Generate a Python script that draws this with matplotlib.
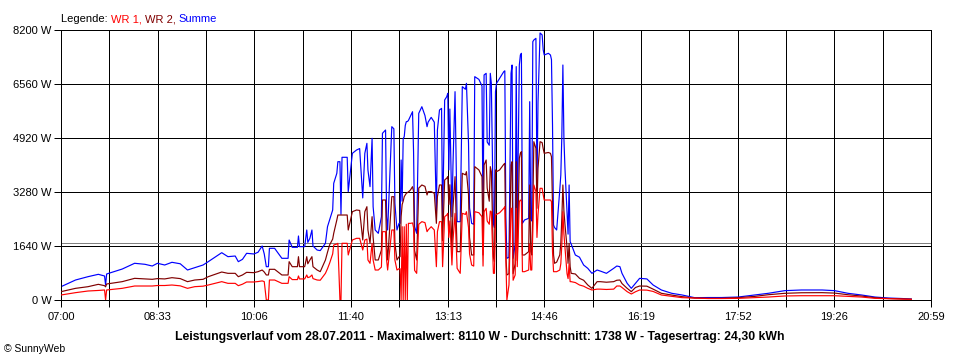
import matplotlib
matplotlib.use("Agg")
import matplotlib.pyplot as plt
import numpy as np

# minutes after 07:00 and power in W
minutes = [0, 14, 26, 36, 42, 43, 44, 59, 71, 81, 88, 93, 100, 107, 115, 122, 129, 137, 142, 155,
           161, 168, 171, 175, 179, 186, 190, 194, 196, 198, 200, 201, 206, 213, 219, 220, 223, 228, 229, 230,
           235, 237, 238, 240, 242, 243, 247, 250, 255, 257, 259, 262, 263, 266, 267, 269, 270, 271, 276, 277,
           281, 285, 288, 291, 293, 295, 296, 298, 300, 301, 303, 306, 309, 310, 313, 314, 315, 319, 321, 322,
           324, 326, 327, 328, 329, 330, 331, 332, 333, 334, 335, 337, 339, 340, 341, 343, 345, 348, 351, 353,
           354, 357, 360, 362, 363, 365, 367, 368, 370, 372, 373, 374, 375, 377, 378, 380, 382, 385, 387, 390,
           391, 393, 394, 396, 398, 399, 403, 406, 407, 408, 410, 411, 413, 414, 415, 417, 418, 419, 420, 423,
           427, 428, 429, 430, 432, 434, 435, 436, 438, 439, 440, 442, 443, 444, 445, 447, 451, 452, 453, 454,
           455, 456, 458, 459, 460, 462, 464, 465, 466, 470, 472, 473, 474, 475, 476, 478, 481, 482, 483, 484,
           485, 486, 488, 489, 490, 491, 492, 496, 500, 504, 508, 512, 517, 520, 526, 533, 536, 539, 541, 546,
           550, 554, 558, 565, 571, 579, 589, 599, 611, 624, 637, 653, 669, 682, 698, 714, 734, 746, 759, 772,
           785, 798, 811, 820]

summe = [404, 607, 708, 780, 729, 455, 790, 940, 1115, 1084, 1032, 1115, 1063, 1145, 1100, 911, 981, 1063, 1164, 1437,
         1316, 1336, 1164, 1235, 1418, 1398, 1450, 1640, 1400, 1012, 1012, 1570, 1570, 1266, 1266, 1822, 1600, 1600, 1944, 1620,
         1620, 2126, 1750, 1873, 2126, 1640, 1518, 1500, 1722, 2226, 2430, 2733, 3544, 3848, 4200, 4200, 2600, 4334, 4334, 3290,
         4455, 4555, 4600, 3100, 4455, 4758, 3948, 3442, 4910, 2834, 2126, 2025, 2530, 5062, 5163, 2530, 2126, 5264, 5200, 2935,
         2126, 2328, 2328, 4252, 3000, 4900, 4960, 5300, 5416, 5420, 5450, 5588, 5719, 4500, 2226, 2025, 5669, 5871, 5600, 5264,
         5400, 5547, 5400, 2632, 5163, 5770, 5820, 2400, 6074, 6175, 6277, 3950, 5800, 2530, 4100, 6327, 2379, 2379, 6479, 6400,
         6580, 4760, 2800, 2328, 2300, 6783, 6700, 6500, 2328, 6834, 6884, 4800, 4700, 6884, 6580, 2328, 2200, 6327, 6580, 6732,
         6935, 6960, 2530, 1266, 1300, 6884, 7137, 1266, 1700, 7088, 2328, 7137, 7441, 7492, 2330, 2430, 2480, 6023, 2480, 2400,
         7846, 7897, 7947, 3340, 6000, 8110, 8050, 7600, 7441, 7492, 7441, 7300, 5315, 2278, 2200, 2126, 3340, 3797, 5000, 7137,
         4900, 4000, 2700, 2000, 3493, 1772, 1700, 1367, 1300, 1063, 962, 810, 911, 880, 810, 962, 1032, 1012, 810, 506,
         354, 506, 658, 640, 456, 304, 203, 152, 71, 75, 75, 90, 152, 203, 284, 304, 304, 284, 203, 152,
         90, 60, 45, 30]

wr2 = [253, 354, 404, 476, 435, 400, 486, 557, 658, 640, 628, 650, 640, 678, 650, 557, 607, 628, 708, 850,
       810, 810, 708, 760, 840, 830, 860, 911, 850, 760, 760, 932, 932, 760, 760, 1164, 1012, 1012, 1316, 1012,
       1012, 1316, 1100, 1215, 1316, 1012, 911, 860, 1215, 1450, 1670, 1850, 2025, 2430, 2581, 2581, 2581, 2581, 2581, 2126,
       2682, 2733, 2720, 1822, 2682, 2834, 2126, 1722, 2530, 1900, 1215, 1215, 1518, 3037, 3037, 1722, 1215, 3138, 3138, 1722,
       1215, 1316, 1316, 2530, 2900, 3000, 3138, 3190, 3240, 3260, 3280, 3341, 3442, 3300, 1500, 1215, 3400, 3493, 3450, 3190,
       3290, 3290, 3240, 2328, 3138, 3493, 3493, 1800, 3645, 3700, 3746, 2900, 3500, 1468, 2800, 3746, 1468, 1468, 3848, 3800,
       3898, 3200, 1900, 1367, 1367, 4050, 3950, 3746, 1367, 4100, 4252, 3400, 3000, 4050, 3898, 1316, 1164, 3950, 3898, 3950,
       4120, 4150, 1367, 760, 800, 4100, 4200, 800, 1100, 4200, 1200, 4303, 4455, 4505, 1367, 1367, 1468, 3493, 1468, 1367,
       2784, 4808, 4606, 2784, 4000, 4808, 4780, 4600, 4455, 4480, 4455, 4350, 2784, 1367, 1114, 1150, 1367, 1722, 2500, 3493,
       2700, 2300, 1600, 1114, 1722, 1012, 810, 790, 658, 600, 456, 354, 557, 557, 540, 557, 600, 607, 500, 354,
       253, 380, 425, 420, 330, 203, 150, 101, 60, 51, 51, 71, 110, 160, 203, 220, 223, 210, 160, 120,
       70, 45, 35, 25]

wr1 = [152, 223, 273, 290, 304, 0, 304, 354, 425, 425, 425, 440, 440, 455, 430, 354, 405, 420, 455, 557,
       506, 506, 435, 480, 547, 547, 560, 580, 560, 0, 0, 607, 607, 506, 506, 708, 620, 620, 730, 640,
       640, 760, 680, 700, 760, 650, 607, 600, 810, 950, 1114, 1400, 1670, 1700, 1722, 0, 0, 1722, 1722, 1367,
       1822, 1873, 1873, 1518, 1822, 1850, 1215, 1114, 1722, 1215, 911, 911, 1000, 2075, 2075, 1215, 911, 2126, 2126, 1215,
       911, 950, 950, 0, 2226, 0, 2226, 0, 2300, 0, 2328, 2328, 2340, 2200, 900, 810, 2300, 2379, 2350, 2075,
       2126, 2226, 2126, 1012, 2075, 2379, 2379, 1012, 2530, 2581, 2632, 1900, 2400, 1063, 1800, 2632, 962, 810, 2632, 2600,
       2682, 2200, 1400, 1063, 1030, 2682, 2650, 2530, 1030, 2682, 2784, 2400, 2300, 2700, 2682, 810, 810, 2580, 2600, 2650,
       2784, 2834, 1215, 0, 456, 2784, 2784, 600, 760, 2784, 1012, 2986, 3037, 3000, 860, 860, 911, 1700, 911, 911,
       2075, 3493, 3290, 1900, 2600, 3392, 3392, 3200, 3037, 3037, 3037, 2986, 1468, 860, 860, 860, 911, 1100, 1700, 2682,
       2000, 1600, 800, 650, 1100, 557, 557, 530, 456, 420, 354, 304, 330, 330, 320, 330, 425, 425, 380, 253,
       182, 250, 304, 300, 260, 152, 110, 71, 60, 45, 45, 50, 71, 90, 122, 130, 132, 130, 110, 90,
       50, 40, 30, 20]

ytick_vals = [0, 1640, 3280, 4920, 6560, 8200]
xtick_labels = ["07:00", "08:33", "10:06", "11:40", "13:13", "14:46", "16:19", "17:52", "19:26", "20:59"]
durchschnitt = 1738
title = "Leistungsverlauf vom 28.07.2011 - Maximalwert: 8110 W - Durchschnitt: 1738 W - Tagesertrag: 24,30 kWh"

plt.rcParams['font.family'] = ['Liberation Sans', 'DejaVu Sans']

fig = plt.figure(figsize=(9.6, 3.6), dpi=100)
ax = fig.add_axes([61/960, 60/360, 870/960, 270/360])

span = 839  # 07:00 .. 20:59
ax.set_xlim(0, span)
ax.set_ylim(0, 8200)

px = 0.72  # one pixel at dpi 100

# grid, black and crisp like the original
xgrid = np.linspace(0, span, 19)
for xv in xgrid:
    ax.axvline(xv, color='black', lw=px, zorder=1, antialiased=False)
for yv in ytick_vals:
    ax.axhline(yv, color='black', lw=px, zorder=1, antialiased=False)
ax.axhline(durchschnitt, color='#808080', lw=px, zorder=1.5, antialiased=False)

lw_data = 0.85
ax.plot(minutes, summe, color='#0000ff', lw=lw_data, zorder=2)
ax.plot(minutes, wr2, color='#800000', lw=lw_data, zorder=3)
ax.plot(minutes, wr1, color='#ff0000', lw=lw_data, zorder=4)

ax.set_xticks(xgrid)
ax.set_xticklabels([xtick_labels[i // 2] if i % 2 == 0 else "" for i in range(19)], fontsize=8)
ax.set_yticks(ytick_vals)
ax.set_yticklabels(["%d W" % v for v in ytick_vals], fontsize=8)
ax.tick_params(axis='x', direction='out', length=5, width=px, pad=4)
ax.tick_params(axis='y', direction='out', length=5, width=px, pad=2)
for s in ax.spines.values():
    s.set_linewidth(px)

# legend in the top-left, coloured words
t0 = fig.text(61/960, 1 - 22/360, "Legende: ", fontsize=8, color='black')
t1 = ax.annotate("WR 1, ", xy=(1, 0), xycoords=t0, fontsize=8, color='#ff0000', va='bottom')
t2 = ax.annotate("WR 2, ", xy=(1, 0), xycoords=t1, fontsize=8, color='#800000', va='bottom')
ax.annotate("Summe", xy=(1, 0), xycoords=t2, fontsize=8, color='#0000ff', va='bottom')

fig.text(480/960, 1 - 337/360, title, fontsize=8.8, fontweight='bold', ha='center', va='center')
fig.text(4/960, 1 - 349/360, "\u00a9 SunnyWeb", fontsize=7.5, va='center')

fig.savefig("out.png", dpi=100)
